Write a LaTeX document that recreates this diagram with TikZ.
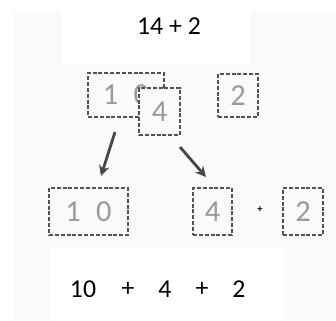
\documentclass[tikz,border=0pt]{standalone}
\usepackage{fontspec}
\setmainfont{Carlito}
\usetikzlibrary{arrows.meta}
\definecolor{panel}{HTML}{FAFAFA}
\definecolor{digit}{HTML}{9A9A9A}

\begin{document}
\begin{tikzpicture}[x=0.03cm,y=-0.03cm,
  box/.style={draw=black!68,line width=2.1pt,dash pattern=on 3.4pt off 1.6pt,fill=panel,
    text=digit,inner sep=0pt,font=\fontsize{26}{28}\selectfont},
  sum/.style={font=\fontsize{22}{26}\selectfont},
  arr/.style={draw=black!72,line width=2.4pt,-{Stealth[length=9pt,width=9pt]}}]
  \useasboundingbox (0,0) rectangle (336,321);
  % light panel, white patches behind the two sums
  \fill[panel] (14,11) rectangle (336,321);
  \fill[white] (62,10) rectangle (250,64);
  \fill[white] (50,248) rectangle (285,321);
  \node[sum] (top) at (169,26) {14 + 2};
  % upper row: 14 shown as 1 0 with the 4 on top, then 2
  \node[box,minimum width=76*0.03cm,minimum height=44*0.03cm] (tenA) at (126,95) {1\hspace{0.5em}0};
  \node[box,minimum width=41*0.03cm,minimum height=47*0.03cm] (fourA) at (159.5,111.5) {4};
  \node[box,minimum width=40*0.03cm,minimum height=43*0.03cm] (twoA) at (238,95.5) {2};
  % arrows down to the split
  \coordinate (a1) at (115,132);
  \coordinate (b1) at (101,176);
  \coordinate (a2) at (180,147);
  \coordinate (b2) at (206,177);
  \draw[arr] (a1) -- (b1);
  \draw[arr] (a2) -- (b2);
  % lower row
  \node[box,minimum width=79*0.03cm,minimum height=47*0.03cm] (tenB) at (88.5,211.5) {1\hspace{0.5em}0};
  \node[box,minimum width=39*0.03cm,minimum height=47*0.03cm] (fourB) at (212.5,211.5) {4};
  \node[font=\small\bfseries] (plus) at (260,210) {+};
  \node[box,minimum width=40*0.03cm,minimum height=47*0.03cm] (twoB) at (303,211.5) {2};
  % final sum
  \foreach \t/\x [count=\i] in {10/83,+/128,4/165,+/202,2/239}
    \node[sum] (n\i) at (\x,289) {\t};
\end{tikzpicture}
\end{document}
